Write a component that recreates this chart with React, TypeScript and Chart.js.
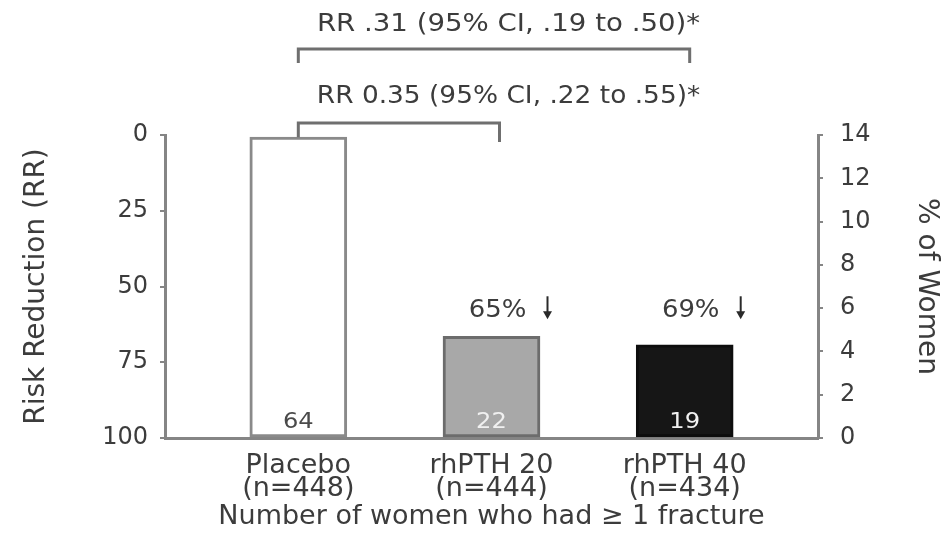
import React, { useEffect, useRef } from "react";
import { Chart, registerables } from "chart.js";

Chart.register(...registerables);

// ---- data ----
const GROUPS = ["Placebo", "rhPTH 20", "rhPTH 40"];
const GROUP_N = ["(n=448)", "(n=444)", "(n=434)"];
const PCT_WOMEN = [13.9, 4.7, 4.3];
const FRACTURE_COUNTS = ["64", "22", "19"];
const REDUCTION_LABELS = ["", "65%", "69%"];
const RR_TICKS = [0, 25, 50, 75, 100];
const PCT_TICKS = [0, 2, 4, 6, 8, 10, 12, 14];
const RR_TEXT_TOP = "RR .31 (95% CI, .19 to .50)*";
const RR_TEXT_LOW = "RR 0.35 (95% CI, .22 to .55)*";
const X_TITLE = "Number of women who had \u2265 1 fracture";
const LEFT_TITLE = "Risk Reduction (RR)";
const RIGHT_TITLE = "% of Women";

const FONT = '"DejaVu Sans", "Liberation Sans", sans-serif';
const TEXT = "#3c3c3c";
const LINE = "#858585";

function stretchText(ctx: CanvasRenderingContext2D, t: string, x: number, y: number, sx: number) {
  ctx.save();
  ctx.translate(x, y);
  ctx.scale(sx, 1);
  ctx.fillText(t, 0, 0);
  ctx.restore();
}

const annotations = {
  id: "annotations",
  afterDraw(chart: any) {
    const { ctx, chartArea } = chart;
    const xs = chart.scales.x;
    const ys = chart.scales.y1;
    const cx = GROUPS.map((_, i) => xs.getPixelForValue(i));
    const top = chartArea.top;
    const bottom = chartArea.bottom;
    ctx.save();
    ctx.textAlign = "center";
    ctx.textBaseline = "middle";

    // counts inside bars
    ctx.font = `22px ${FONT}`;
    FRACTURE_COUNTS.forEach((t, i) => {
      ctx.fillStyle = i === 0 ? "#4a4a4a" : "#f0f0f0";
      stretchText(ctx, t, cx[i], bottom - 16, 1.1);
    });

    // reduction labels with arrows
    const ly = ys.getPixelForValue(Math.max(PCT_WOMEN[1], PCT_WOMEN[2])) - 26;
    ctx.font = `24px ${FONT}`;
    REDUCTION_LABELS.forEach((t, i) => {
      if (!t) return;
      ctx.fillStyle = TEXT;
      stretchText(ctx, t, cx[i] + 6, ly, 1.08);
      const ax = cx[i] + 56;
      ctx.strokeStyle = "#2a2a2a";
      ctx.lineWidth = 2;
      ctx.beginPath();
      ctx.moveTo(ax, ly - 14);
      ctx.lineTo(ax, ly + 3);
      ctx.stroke();
      ctx.fillStyle = "#2a2a2a";
      ctx.beginPath();
      ctx.moveTo(ax - 4.5, ly + 1);
      ctx.lineTo(ax + 4.5, ly + 1);
      ctx.lineTo(ax, ly + 9);
      ctx.closePath();
      ctx.fill();
    });

    // brackets
    ctx.strokeStyle = "#6f6f6f";
    ctx.lineWidth = 3;
    // upper bracket: placebo to rhPTH 40
    const uy = top - 86;
    ctx.beginPath();
    ctx.moveTo(cx[0], uy + 14);
    ctx.lineTo(cx[0], uy);
    ctx.lineTo(cx[2] + 5, uy);
    ctx.lineTo(cx[2] + 5, uy + 14);
    ctx.stroke();
    // lower bracket: placebo to rhPTH 20
    const lyb = top - 12;
    const placeboTop = ys.getPixelForValue(PCT_WOMEN[0]);
    ctx.beginPath();
    ctx.moveTo(cx[0], placeboTop);
    ctx.lineTo(cx[0], lyb);
    ctx.lineTo(cx[1] + 8, lyb);
    ctx.lineTo(cx[1] + 8, lyb + 19);
    ctx.stroke();

    // RR texts
    ctx.fillStyle = TEXT;
    ctx.font = `24px ${FONT}`;
    const tx = (cx[0] + cx[2]) / 2 + 17;
    stretchText(ctx, RR_TEXT_TOP, tx, top - 110, 1.15);
    stretchText(ctx, RR_TEXT_LOW, tx, top - 38, 1.1);
    ctx.restore();
  },
};

export default function App() {
  const ref = useRef<HTMLCanvasElement | null>(null);
  useEffect(() => {
    if (!ref.current) return;
    const chart = new Chart(ref.current, {
      type: "bar",
      data: {
        datasets: [
          {
            label: RIGHT_TITLE,
            data: PCT_WOMEN.map((v, i) => ({ x: i, y: v })),
            yAxisID: "y1",
            xAxisID: "x",
            backgroundColor: ["#ffffff", "#a8a8a8", "#161616"],
            borderColor: ["#8a8a8a", "#6c6c6c", "#0d0d0d"],
            borderWidth: 3,
            borderSkipped: false,
            barThickness: 97,
          } as any,
        ],
      },
      options: {
        animation: false,
        responsive: true,
        maintainAspectRatio: false,
        layout: { padding: { top: 135, left: 0, right: 0, bottom: 0 } },
        plugins: { legend: { display: false }, tooltip: { enabled: false } },
        scales: {
          x: {
            type: "linear",
            position: "bottom",
            min: -0.69,
            max: 2.69,
            offset: false,
            grid: { display: false, drawTicks: false },
            border: { display: true, color: LINE, width: 3 },
            afterBuildTicks: (s: any) => {
              s.ticks = GROUPS.map((_, i) => ({ value: i }));
            },
            afterFit: (s: any) => {
              s.height = 111;
            },
            ticks: {
              autoSkip: false,
              maxRotation: 0,
              padding: 16,
              color: TEXT,
              font: { family: FONT, size: 27, lineHeight: 0.86 },
              callback: (v: any) => {
                const i = Math.round(Number(v));
                return [GROUPS[i], GROUP_N[i]];
              },
            },
            title: {
              display: true,
              text: X_TITLE,
              color: TEXT,
              font: { family: FONT, size: 27 },
              padding: { top: 0, bottom: 16 },
            },
          },
          y: {
            type: "linear",
            position: "left",
            display: true,
            reverse: true,
            min: 0,
            max: 100,
            afterBuildTicks: (s: any) => {
              s.ticks = RR_TICKS.map((v) => ({ value: v }));
            },
            afterFit: (s: any) => {
              s.width = 165;
            },
            grid: { drawOnChartArea: false, drawTicks: true, tickLength: 5, color: LINE, lineWidth: 2 },
            border: { display: true, color: LINE, width: 3 },
            ticks: { color: TEXT, padding: 12, font: { family: FONT, size: 24 } },
            title: {
              display: true,
              text: LEFT_TITLE,
              color: TEXT,
              font: { family: FONT, size: 28 },
              padding: { top: 20, bottom: 0 },
            },
          },
          y1: {
            type: "linear",
            position: "right",
            min: 0,
            max: 14,
            afterBuildTicks: (s: any) => {
              s.ticks = PCT_TICKS.map((v) => ({ value: v }));
            },
            afterFit: (s: any) => {
              s.width = 125;
            },
            grid: { drawOnChartArea: false, drawTicks: true, tickLength: 5, color: LINE, lineWidth: 2 },
            border: { display: true, color: LINE, width: 3 },
            ticks: { color: TEXT, padding: 17, font: { family: FONT, size: 24 } },
            title: {
              display: true,
              text: RIGHT_TITLE,
              color: TEXT,
              font: { family: FONT, size: 28 },
              padding: { top: 0, bottom: 0 },
            },
          },
        },
      } as any,
      plugins: [annotations],
    });
    return () => chart.destroy();
  }, []);

  return (
    <div style={{ position: "absolute", left: 0, top: 0, width: 943, height: 549, background: "#fff" }}>
      <canvas ref={ref} />
    </div>
  );
}
